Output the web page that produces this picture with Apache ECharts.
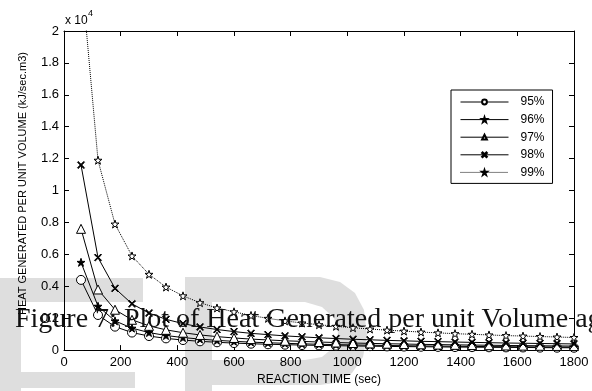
<!DOCTYPE html>
<html>
<head>
<meta charset="utf-8">
<script src="https://cdn.jsdelivr.net/npm/echarts@6/dist/echarts.min.js"></script>
<style>
  html, body { margin: 0; padding: 0; background: #fff; }
  #chart { width: 592px; height: 391px; }
</style>
</head>
<body>
<div id="chart"></div>
<script>
// reaction time (sec)
const times = [60, 120, 180, 240, 300, 360, 420, 480, 540, 600, 660, 720, 780, 840, 900,
  960, 1020, 1080, 1140, 1200, 1260, 1320, 1380, 1440, 1500, 1560, 1620, 1680, 1740, 1800];

// heat generated per unit volume (kJ/sec.m3)
const conv95 = [4400, 2200, 1470, 1100, 880, 735, 630, 550, 490, 440, 400, 365, 340, 315, 295,
  275, 260, 245, 230, 220, 210, 200, 190, 185, 175, 170, 165, 155, 150, 147];
const conv96 = [5500, 2750, 1830, 1375, 1100, 915, 785, 690, 610, 550, 500, 460, 425, 395, 365,
  345, 325, 305, 290, 275, 260, 250, 240, 230, 220, 210, 205, 195, 190, 183];
const conv97 = [7600, 3800, 2530, 1900, 1520, 1270, 1090, 950, 845, 760, 690, 635, 585, 545, 505,
  475, 445, 420, 400, 380, 360, 345, 330, 315, 305, 290, 280, 270, 260, 253];
const conv98 = [11600, 5800, 3870, 2900, 2320, 1930, 1660, 1450, 1290, 1160, 1050, 970, 890, 830, 770,
  725, 680, 645, 610, 580, 550, 530, 505, 485, 465, 445, 430, 415, 400, 387];
const conv99 = [23800, 11900, 7900, 5900, 4750, 3950, 3400, 2970, 2640, 2400, 2170, 1990, 1830, 1700, 1590,
  1490, 1400, 1320, 1250, 1190, 1130, 1080, 1030, 990, 950, 910, 880, 850, 820, 790];

const seriesNames = ['95%', '96%', '97%', '98%', '99%'];

const SANS = 'Liberation Sans, Arial, sans-serif';
const SERIF = 'Liberation Serif, Times New Roman, serif';

// marker shapes
const starPath = 'path://M5,0L6.2,3.6L10,3.6L6.9,5.9L8.1,9.5L5,7.3L1.9,9.5L3.1,5.9L0,3.6L3.8,3.6Z';
const crossPath = 'path://M0,1L1,0L5,4L9,0L10,1L6,5L10,9L9,10L5,6L1,10L0,9L4,5Z';

function pairs(ys) {
  return times.map((t, i) => [t, ys[i]]);
}

function lineSeries(name, ys, symbol, size, fill, dashed) {
  return {
    name: name,
    type: 'line',
    data: pairs(ys),
    symbol: symbol,
    symbolSize: size,
    showAllSymbol: true,
    clip: true,
    lineStyle: { color: '#000', width: 1, type: dashed ? 'dotted' : 'solid' },
    itemStyle: { color: fill, borderColor: '#000', borderWidth: 1 },
    emphasis: { disabled: true },
    animation: false
  };
}

function tick() {
  return { show: true, inside: true, length: 5, lineStyle: { color: '#000', width: 1 } };
}
function axisLine() {
  return { show: true, onZero: false, lineStyle: { color: '#000', width: 1 } };
}

const chart = echarts.init(document.getElementById('chart'), null, { renderer: 'canvas' });
const wm = '#dedede';

const option = {
  backgroundColor: '#fff',
  animation: false,
  grid: { left: 64, right: 18, top: 31, bottom: 38 },
  legend: {
    data: seriesNames,
    orient: 'vertical',
    left: 451,
    top: 90,
    backgroundColor: '#fff',
    borderColor: '#000',
    borderWidth: 1,
    borderRadius: 0,
    padding: [6, 8, 5, 9],
    itemWidth: 48,
    itemHeight: 6,
    itemGap: 5.6,
    selectedMode: false,
    lineStyle: { width: 1 },
    textStyle: { fontFamily: SANS, fontSize: 12, color: '#000', lineHeight: 12, padding: [0, 0, 0, 7] }
  },
  xAxis: [
    {
      type: 'value', min: 0, max: 1800, interval: 200, position: 'bottom',
      axisLine: axisLine(), axisTick: tick(), splitLine: { show: false },
      axisLabel: { fontFamily: SANS, fontSize: 13, color: '#000', margin: 6, formatter: v => String(v) },
      name: 'REACTION TIME (sec)', nameLocation: 'middle', nameGap: 22,
      nameTextStyle: { fontFamily: SANS, fontSize: 12, color: '#000' }
    },
    {
      type: 'value', min: 0, max: 1800, interval: 200, position: 'top',
      axisLine: axisLine(), axisTick: tick(), splitLine: { show: false },
      axisLabel: { show: false }
    }
  ],
  yAxis: [
    {
      type: 'value', min: 0, max: 20000, interval: 2000, position: 'left',
      axisLine: axisLine(), axisTick: tick(), splitLine: { show: false },
      axisLabel: {
        fontFamily: SANS, fontSize: 13, color: '#000', margin: 5,
        formatter: v => String(v / 10000)
      },
      name: 'HEAT GENERATED PER UNIT VOLUME (kJ/sec.m3)', nameLocation: 'middle', nameGap: 36,
      nameTextStyle: { fontFamily: SANS, fontSize: 11, color: '#000', padding: [0, 0, 0, 14] }
    },
    {
      type: 'value', min: 0, max: 20000, interval: 2000, position: 'right',
      axisLine: axisLine(), axisTick: tick(), splitLine: { show: false },
      axisLabel: { show: false }
    }
  ],
  series: [
    lineSeries('95%', conv95, 'circle', 9, '#fff', false),
    lineSeries('96%', conv96, starPath, 8, '#000', false),
    lineSeries('97%', conv97, 'triangle', 9, '#fff', false),
    lineSeries('98%', conv98, crossPath, 7, '#000', false),
    lineSeries('99%', conv99, starPath, 8, '#fff', true)
  ],
  graphic: [
    // light grey watermark letters behind the plot
    { type: 'rect', z: -10, silent: true, shape: { x: 0, y: 278, width: 143, height: 24 }, style: { fill: wm } },
    { type: 'rect', z: -10, silent: true, shape: { x: 0, y: 278, width: 21, height: 113 }, style: { fill: wm } },
    { type: 'rect', z: -10, silent: true, shape: { x: 0, y: 372, width: 135, height: 16 }, style: { fill: wm } },
    { type: 'rect', z: -10, silent: true, shape: { x: 185, y: 277, width: 27, height: 114 }, style: { fill: wm } },
    {
      type: 'polygon', z: -10, silent: true,
      shape: { points: [[212, 277], [320, 277], [340, 282], [355, 293], [364, 310], [367, 335],
        [363, 357], [352, 373], [335, 383], [320, 385], [212, 385]] },
      style: { fill: wm }
    },
    {
      type: 'polygon', z: -9, silent: true,
      shape: { points: [[212, 302], [305, 302], [322, 307], [334, 318], [338, 333], [334, 347],
        [322, 357], [305, 360], [212, 360]] },
      style: { fill: '#fff' }
    },
    // exponent label
    { type: 'text', left: 65, top: 15, style: { text: 'x 10', font: '12px ' + SANS, fill: '#000' } },
    { type: 'text', left: 88, top: 9, style: { text: '4', font: '9px ' + SANS, fill: '#000' } },
    // caption text that overlaps the figure
    {
      type: 'text', z: 100, silent: true, x: 15, y: 320,
      style: {
        text: 'Figure 7: Plot of Heat Generated per unit Volume ag',
        font: '28px ' + SERIF, fill: '#111', verticalAlign: 'middle'
      }
    },
    {
      type: 'text', z: 100, silent: true, x: 269, y: -17,
      style: { text: 'g', font: '28px ' + SERIF, fill: '#111', verticalAlign: 'middle' }
    }
  ]
};

chart.setOption(option);
</script>
</body>
</html>
